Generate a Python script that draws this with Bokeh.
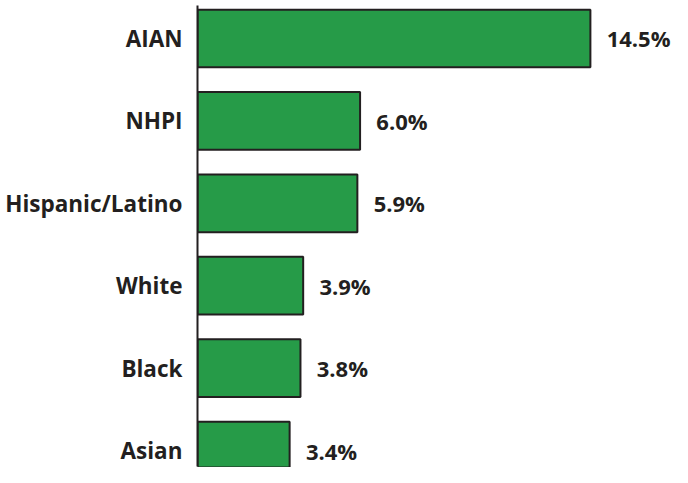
from bokeh.plotting import figure
from bokeh.models import ColumnDataSource, Range1d, FixedTicker, LinearAxis
from bokeh.embed import file_html
from bokeh.resources import INLINE
from bokeh.core.properties import value

categories = ["AIAN", "NHPI", "Hispanic/Latino", "White", "Black", "Asian"]
rates = [14.5, 6.0, 5.9, 3.9, 3.8, 3.4]
rate_labels = ["14.5%", "6.0%", "5.9%", "3.9%", "3.8%", "3.4%"]

pos = list(range(len(categories)))
src = ColumnDataSource(dict(y=pos, v=rates, lab=rate_labels, lx=[r + 0.6 for r in rates]))

DARK = "#231f20"
GREEN = "#269b48"

p = figure(width=672, height=467, output_backend="svg", toolbar_location=None,
           x_range=Range1d(0, 17.53), y_range=Range1d(5.206, -0.461),
           min_border_left=197, min_border_right=0, min_border_top=0, min_border_bottom=0,
           y_axis_location=None, x_axis_location=None)
p.outline_line_color = None
p.grid.visible = False
p.background_fill_color = "white"
p.border_fill_color = "white"

p.hbar(y="y", left=0, right="v", height=0.7, source=src,
       fill_color=GREEN, line_color=DARK, line_width=2)

ax = LinearAxis(ticker=FixedTicker(ticks=pos),
                major_label_overrides={i: c for i, c in enumerate(categories)},
                bounds=(-0.40, 5.19))
ax.axis_line_color = DARK
ax.axis_line_width = 2
ax.major_tick_line_color = None
ax.minor_tick_line_color = None
ax.major_tick_in = 0
ax.major_tick_out = 0
ax.major_label_standoff = 15
ax.major_label_text_font = "Open Sans"
ax.major_label_text_font_style = "bold"
ax.major_label_text_font_size = "22.5px"
ax.major_label_text_color = DARK
p.add_layout(ax, "left")

p.text(x="lx", y="y", text="lab", source=src, text_font=value("Open Sans"),
       text_font_style="bold", text_font_size="22px", text_color=DARK,
       text_align="left", text_baseline="middle")

open("out.html", "w").write(file_html(p, INLINE))
